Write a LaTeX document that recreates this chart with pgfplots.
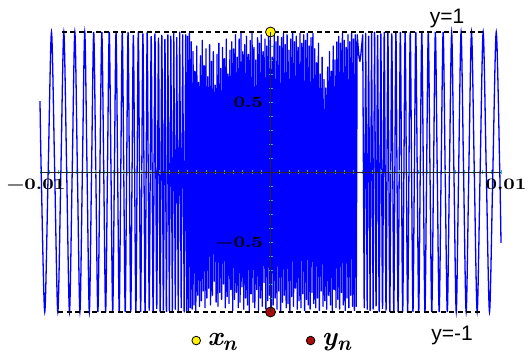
\documentclass[border=0pt]{standalone}
\usepackage{fontspec}
\usepackage{pgfplots}
\pgfplotsset{compat=1.18}
\newfontfamily\lsans{Liberation Sans}
\newfontfamily\tickfont[FakeStretch=1.25]{lmroman10-bold.otf}
\definecolor{tickc}{RGB}{40,180,200}
\definecolor{dred}{RGB}{170,12,12}
\definecolor{cblue}{RGB}{0,0,255}
\newcommand{\sub}[2]{{\bfseries\itshape #1\raisebox{-0.18em}{\fontsize{21}{22}\selectfont #2}}}
\begin{document}
\begin{tikzpicture}
\begin{axis}[
  at={(0,0)}, anchor=south west,
  scale only axis, width=461pt, height=280pt,
  xmin=-0.01, xmax=0.01, ymin=-1, ymax=1,
  axis lines=middle,
  axis line style={-, draw=black!85, line width=0.8pt},
  set layers=axis on top,
  clip=false,
  scaled x ticks=false, scaled y ticks=false,
  xtick={-0.01,0.01},
  xticklabels={{−0.01\hspace*{8pt}},{\hspace*{10pt}0.01}},
  ytick={-0.5,0.5}, yticklabels={−0.5,0.5},
  minor xtick={-0.0096,-0.0092,-0.0088,-0.0084,-0.008,-0.0076,-0.0072,-0.0068,-0.0064,-0.006,-0.0056,-0.0052,-0.0048,-0.0044,-0.004,-0.0036,-0.0032,-0.0028,-0.0024,-0.002,-0.0016,-0.0012,-0.0008,-0.0004,0.0004,0.0008,0.0012,0.0016,0.002,0.0024,0.0028,0.0032,0.0036,0.004,0.0044,0.0048,0.0052,0.0056,0.006,0.0064,0.0068,0.0072,0.0076,0.008,0.0084,0.0088,0.0092,0.0096},
  minor ytick={-0.9,-0.8,-0.7,-0.6,-0.4,-0.3,-0.2,-0.1,0.1,0.2,0.3,0.4,0.6,0.7,0.8,0.9},
  tick style={draw=tickc, line width=0.8pt},
  major tick length=4pt, minor tick length=4pt,
  ticklabel style={font=\tickfont\fontsize{16}{19}\selectfont},
  xticklabel style={yshift=-1pt},
  yticklabel style={xshift=-2pt},
  legend style={at={(axis description cs:0.504,-0.102)}, anchor=center,
    draw=none, fill=none, legend columns=2,
    font=\fontsize{27}{29}\selectfont,
    /tikz/every odd column/.append style={column sep=5pt},
    /tikz/every even column/.append style={column sep=68pt}},
]
% left sparse part
\addplot[cblue, line width=1.3pt, smooth, forget plot] coordinates {
(-0.01,0.506) (-0.0099472,0) (-0.0097942,-1) (-0.0096458,0) (-0.0095018,1) (-0.0093621,0)
(-0.0092264,-1) (-0.0090946,0) (-0.0089665,1) (-0.0088419,0) (-0.0087208,-1) (-0.0086030,0)
(-0.0084883,1) (-0.0083766,0) (-0.0082678,-1) (-0.0081618,0) (-0.0080585,1) (-0.0079578,0)
(-0.0078595,-1) (-0.0077637,0) (-0.0076701,1) (-0.0075788,0) (-0.0074896,-1) (-0.0074026,0)
(-0.0073175,1) (-0.0072343,0) (-0.0071530,-1) (-0.0070736,0) (-0.0069958,1) (-0.0069198,0)
(-0.0068454,-1) (-0.0067725,0) (-0.0067013,1) (-0.0066315,0) (-0.0065631,-1) (-0.0064961,0)
(-0.0064305,1) (-0.0063662,0) (-0.0063032,-1) (-0.0062414,0) (-0.0061808,1) (-0.0061213,0)
(-0.0060630,-1) (-0.0060058,0) (-0.0059497,0.98) (-0.0058946,0) (-0.0058406,-1) (-0.0057875,0)
(-0.0057353,1) (-0.0056841,0) (-0.0056338,-1) (-0.0055844,0) (-0.0055358,0.99) (-0.0054881,0)
(-0.0054412,-1) (-0.0053951,0) (-0.0053497,1) (-0.0053052,0) (-0.0052613,-0.99) (-0.0052182,0)
(-0.0051758,0.97) (-0.0051340,0) (-0.0050930,-1) (-0.0050525,0) (-0.0050128,0.99) (-0.0049736,0)
(-0.0049350,-0.98) (-0.0048971,0) (-0.0048597,0.96) (-0.0048229,0) (-0.0047866,-1) (-0.0047509,0)
(-0.0047157,0.98) (-0.0046810,0) (-0.0046469,-0.99) (-0.0046132,0) (-0.0045800,0.95) (-0.0045473,0)
(-0.0045150,-1)
};
% dense middle part
\addplot[cblue, line width=1.3pt, line join=round, forget plot] coordinates {
(-0.004515,-1) (-0.004452,0.98) (-0.004388,-0.99) (-0.004324,0.97) (-0.004259,-1) (-0.004195,0.99)
(-0.004131,-0.98) (-0.004067,0.96) (-0.004003,-0.99) (-0.003938,1) (-0.003874,-0.97) (-0.003810,0.98)
(-0.003746,-1)
(-0.00368,0.98) (-0.00364,-0.99) (-0.00360,0.97) (-0.00356,-1) (-0.00352,0.99) (-0.00348,-0.97)
(-0.00344,0.93) (-0.00340,-0.98) (-0.00336,0.86) (-0.00332,-0.95) (-0.00328,0.72) (-0.00324,-0.99)
(-0.00320,0.90) (-0.00316,-0.88) (-0.00312,0.64) (-0.00308,-0.96) (-0.00304,0.83) (-0.00300,-0.92)
(-0.00296,0.94) (-0.00292,-0.85) (-0.00288,0.76) (-0.00284,-0.97) (-0.00280,0.88) (-0.00276,-0.90)
(-0.00272,0.68) (-0.00268,-0.83) (-0.00264,0.91) (-0.00260,-0.95) (-0.00256,0.79) (-0.00252,-0.88)
(-0.00248,0.86) (-0.00244,-0.78) (-0.00240,0.62) (-0.00236,-0.93) (-0.00232,0.84) (-0.00228,-0.96)
(-0.00224,0.92) (-0.00220,-0.86) (-0.00216,0.74) (-0.00212,-0.91) (-0.00208,0.89) (-0.00204,-0.80)
(-0.00200,0.81) (-0.00196,-0.97) (-0.00192,0.95) (-0.00188,-0.89) (-0.00184,0.70) (-0.00180,-0.94)
(-0.00176,0.87) (-0.00172,-0.84) (-0.00168,0.93) (-0.00164,-0.99) (-0.00160,0.88) (-0.00156,-0.91)
(-0.00152,0.98) (-0.00148,-0.86) (-0.00144,0.82) (-0.00140,-0.97) (-0.00136,0.95) (-0.00132,-0.93)
(-0.00128,0.99) (-0.00124,-0.82) (-0.00120,0.86) (-0.00116,-0.98) (-0.00112,0.91) (-0.00108,-0.90)
(-0.00104,0.97) (-0.00100,-0.95) (-0.00096,0.84) (-0.00092,-0.99) (-0.00088,0.94) (-0.00084,-0.87)
(-0.00080,0.99) (-0.00076,-0.93) (-0.00072,0.89) (-0.00068,-0.97) (-0.00064,0.80) (-0.00060,-0.84)
(-0.00056,0.96) (-0.00052,-0.99) (-0.00048,0.92) (-0.00044,-0.90) (-0.00040,0.98) (-0.00036,-0.96)
(-0.00032,0.86) (-0.00028,-0.79) (-0.00024,0.95) (-0.00020,-0.98) (-0.00016,0.90) (-0.00012,-0.92)
(-0.00008,0.99) (-0.00004,-0.88) (0.00000,0.94) (0.00004,-0.97) (0.00008,0.82) (0.00012,-0.95)
(0.00016,0.99) (0.00020,-0.90) (0.00024,0.93) (0.00028,-0.98) (0.00032,0.97) (0.00036,-0.85)
(0.00040,0.90) (0.00044,-0.99) (0.00048,0.96) (0.00052,-0.93) (0.00056,0.99) (0.00060,-0.88)
(0.00064,0.91) (0.00068,-0.97) (0.00072,0.98) (0.00076,-0.94) (0.00080,0.87) (0.00084,-0.99)
(0.00088,0.95) (0.00092,-0.89) (0.00096,0.99) (0.00100,-0.96) (0.00104,0.93) (0.00108,-0.83)
(0.00112,0.97) (0.00116,-0.98) (0.00120,0.89) (0.00124,-0.92) (0.00128,0.99) (0.00132,-0.97)
(0.00136,0.92) (0.00140,-0.87) (0.00144,0.98) (0.00148,-0.99) (0.00152,0.94) (0.00156,-0.91)
(0.00160,0.99) (0.00164,-0.95) (0.00168,0.90) (0.00172,-0.98) (0.00176,0.96) (0.00180,-0.86)
(0.00184,0.99) (0.00188,-0.94) (0.00192,0.88) (0.00196,-0.97) (0.00200,0.78) (0.00204,-0.90)
(0.00208,0.92) (0.00212,-0.99) (0.00216,0.70) (0.00220,-0.85) (0.00224,0.82) (0.00228,-0.96)
(0.00232,0.66) (0.00236,-0.92) (0.00240,0.60) (0.00244,-0.98) (0.00248,0.75) (0.00252,-0.88)
(0.00256,0.86) (0.00260,-0.95) (0.00264,0.72) (0.00268,-0.99) (0.00272,0.90) (0.00276,-0.84)
(0.00280,0.80) (0.00284,-0.97) (0.00288,0.93) (0.00292,-0.91) (0.00296,0.97) (0.00300,-0.98)
(0.00304,0.92) (0.00308,-0.86) (0.00312,0.99) (0.00316,-0.95) (0.00320,0.94) (0.00324,-0.99)
(0.00328,0.89) (0.00332,-0.90) (0.00336,0.98) (0.00340,-0.97) (0.00344,0.93) (0.00348,-0.88)
(0.00352,0.99) (0.00356,-0.96) (0.00360,0.95) (0.00364,-0.99) (0.00368,0.98) (0.00372,-0.96)
(0.00376,0.98) (0.00380,0.90) (0.00384,0.82) (0.00388,0.79) (0.00392,0.84) (0.00396,0.91)
(0.00400,0.98)
(0.004065,-0.97) (0.004130,0.99) (0.004195,-0.98) (0.004256,0.97) (0.004321,-0.99) (0.004386,0.99)
(0.004451,-0.98) (0.004515,1)
};
% right sparse part
\addplot[cblue, line width=1.3pt, smooth, forget plot] coordinates {
(0.0045150,1) (0.0045473,0) (0.0045800,-0.96) (0.0046132,0) (0.0046469,0.98) (0.0046810,0)
(0.0047157,-1) (0.0047509,0) (0.0047866,0.99) (0.0048229,0) (0.0048597,-0.98) (0.0048971,0)
(0.0049350,1) (0.0049736,0) (0.0050128,-0.99) (0.0050525,0) (0.0050930,1) (0.0051340,0)
(0.0051758,-1) (0.0052182,0) (0.0052613,0.99) (0.0053052,0) (0.0053497,-1) (0.0053951,0)
(0.0054412,1) (0.0054881,0) (0.0055358,-1) (0.0055844,0) (0.0056338,1) (0.0056841,0)
(0.0057353,-1) (0.0057875,0) (0.0058406,1) (0.0058946,0) (0.0059497,-1) (0.0060058,0)
(0.0060630,1) (0.0061213,0) (0.0061808,-1) (0.0062414,0) (0.0063032,1) (0.0063662,0)
(0.0064305,-1) (0.0064961,0) (0.0065631,1) (0.0066315,0) (0.0067013,-1) (0.0067725,0)
(0.0068454,1) (0.0069198,0) (0.0069958,-1) (0.0070736,0) (0.0071530,1) (0.0072343,0)
(0.0073175,-1) (0.0074026,0) (0.0074896,1) (0.0075788,0) (0.0076701,-1) (0.0077637,0)
(0.0078595,1) (0.0079578,0) (0.0080585,-1) (0.0081618,0) (0.0082678,1) (0.0083766,0)
(0.0084883,-1) (0.0086030,0) (0.0087208,1) (0.0088419,0) (0.0089665,-1) (0.0090946,0)
(0.0092264,1) (0.0093621,0) (0.0095018,-1) (0.0096458,0) (0.0097942,1) (0.0099472,0)
(0.01,-0.506)
};
% reference lines y=1 and y=-1
\addplot[black, line width=1.5pt, dash pattern=on 5pt off 3.5pt, forget plot] coordinates {(-0.009046,1) (0.009219,1)};
\addplot[black, line width=1.5pt, dash pattern=on 5pt off 3.5pt, forget plot] coordinates {(-0.009219,-1) (0.009089,-1)};
% points
\addplot[only marks, mark=*, mark size=5pt, mark options={fill=yellow, draw=black, line width=0.8pt}, on layer=axis foreground, forget plot] coordinates {(0,1)};
\addplot[only marks, mark=*, mark size=5pt, mark options={fill=dred, draw=black, line width=0.8pt}, on layer=axis foreground, forget plot] coordinates {(0,-1)};
\addlegendimage{only marks, mark=*, mark size=4.3pt, mark options={fill=yellow, draw=black, line width=0.8pt}}
\addlegendimage{only marks, mark=*, mark size=4.3pt, mark options={fill=dred, draw=black, line width=0.8pt}}
\legend{\sub{x}{n},\sub{y}{n}}
\node[anchor=base, font=\lsans\fontsize{21}{24}\selectfont] at (axis cs:0.007657,1.0607) {y=1};
\node[anchor=base, font=\lsans\fontsize{21}{24}\selectfont] at (axis cs:0.007874,-1.207) {y=-1};
\end{axis}
\pgfresetboundingbox
\path[use as bounding box] (-40pt,-43pt) rectangle (488pt,312pt);
\end{tikzpicture}
\end{document}
